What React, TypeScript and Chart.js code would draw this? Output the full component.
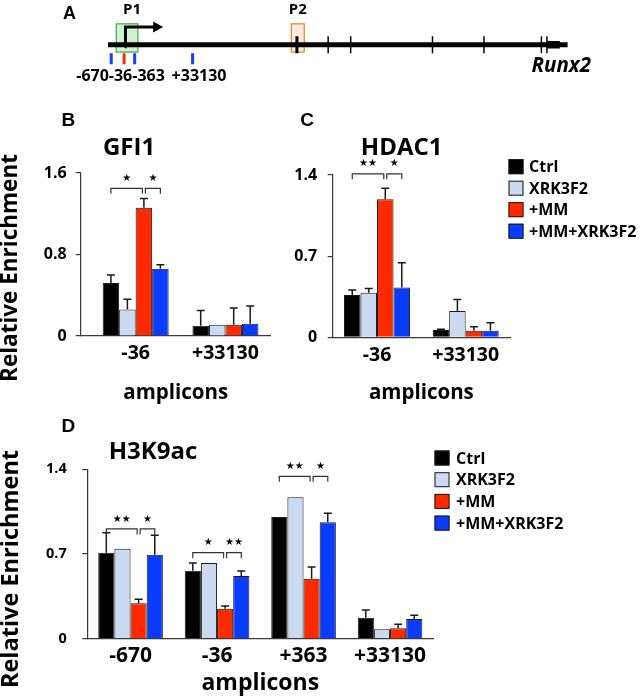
import React, { useEffect, useRef } from 'react';
import { Chart, registerables } from 'chart.js';

Chart.register(...registerables);

// ---------- shared series ----------
const SERIES = ['Ctrl', 'XRK3F2', '+MM', '+MM+XRK3F2'];
const SERIES_COLORS = ['#000000', '#c9daf1', '#ff2a00', '#0a3cff'];

// ---------- panel A: Runx2 gene map (positions in arbitrary track units) ----------
const geneBody = [0, 100];
const geneTail = [95.6, 98.3];
const exonPositions = [41.1, 47.9, 52.8, 70.6, 81.8, 94.3, 95.5];
const exonWidths = [3, 1.5, 1.5, 1.5, 1.5, 1.5, 1.5];
const primerNames = ['-670', '-36', '-363', '+33130'];
const primerPositions = [0.7, 3.5, 5.8, 18.4];
const primerColors = ['#1a3cff', '#ff2a00', '#1a3cff', '#1a3cff'];
const promoterNames = ['P1', 'P2'];
const promoterStarts = [1.8, 39.9];
const promoterEnds = [6.5, 42.7];
const promoterFills = ['rgba(200,240,200,0.85)', 'rgba(253,233,217,0.9)'];
const promoterStrokes = ['#4caf50', '#f08a2c'];
const tssPosition = 3.8;
const tssArrowEnd = 12;

// ---------- panel B: GFI1 ----------
const gfi1Amplicons = ['-36', '+33130'];
const gfi1YTicks = [0, 0.8, 1.6];
const gfi1Ctrl = [0.52, 0.10];
const gfi1Xrk = [0.26, 0.11];
const gfi1Mm = [1.26, 0.11];
const gfi1MmXrk = [0.66, 0.12];
const gfi1CtrlErr = [0.08, 0.15];
const gfi1XrkErr = [0.10, 0];
const gfi1MmErr = [0.09, 0.165];
const gfi1MmXrkErr = [0.04, 0.175];
const gfi1Sig = [
  { cat: 0, from: 0, to: 2, level: 1.45, stars: '★' },
  { cat: 0, from: 2, to: 3, level: 1.45, stars: '★' },
];

// ---------- panel C: HDAC1 ----------
const hdac1Amplicons = ['-36', '+33130'];
const hdac1YTicks = [0, 0.7, 1.4];
const hdac1Ctrl = [0.365, 0.063];
const hdac1Xrk = [0.385, 0.227];
const hdac1Mm = [1.19, 0.057];
const hdac1MmXrk = [0.43, 0.057];
const hdac1CtrlErr = [0.043, 0.006];
const hdac1XrkErr = [0.035, 0.10];
const hdac1MmErr = [0.095, 0.033];
const hdac1MmXrkErr = [0.214, 0.069];
const hdac1Sig = [
  { cat: 0, from: 0, to: 2, level: 1.41, stars: '★★' },
  { cat: 0, from: 2, to: 3, level: 1.41, stars: '★' },
];

// ---------- panel D: H3K9ac ----------
const h3Amplicons = ['-670', '-36', '+363', '+33130'];
const h3YTicks = [0, 0.7, 1.4];
const h3Ctrl = [0.711, 0.562, 1.006, 0.174];
const h3Xrk = [0.744, 0.626, 1.169, 0.078];
const h3Mm = [0.293, 0.248, 0.496, 0.086];
const h3MmXrk = [0.694, 0.518, 0.962, 0.163];
const h3CtrlErr = [0.165, 0.064, 0, 0.063];
const h3XrkErr = [0, 0, 0, 0];
const h3MmErr = [0.033, 0.022, 0.097, 0.033];
const h3MmXrkErr = [0.161, 0.042, 0.074, 0.03];
const h3Sig = [
  { cat: 0, from: 0, to: 2, level: 0.907, stars: '★★' },
  { cat: 0, from: 2, to: 3, level: 0.907, stars: '★' },
  { cat: 1, from: 0, to: 2, level: 0.711, stars: '★' },
  { cat: 1, from: 2, to: 3, level: 0.711, stars: '★★' },
  { cat: 2, from: 0, to: 2, level: 1.342, stars: '★★' },
  { cat: 2, from: 2, to: 3, level: 1.342, stars: '★' },
];

// ---------- helpers ----------
const FONT = '"Open Sans", "Noto Sans", sans-serif';
const LETTER_FONT = '"Liberation Sans", Arial, sans-serif';
const AXIS = '#3a3a3a';

type TextItem = {
  text: string;
  x: number;
  y: number;
  font: string;
  align?: CanvasTextAlign;
  rotate?: number;
  color?: string;
};
type Sig = { cat: number; from: number; to: number; level: number; stars: string };
type LegendSpec = { x: number; y: number; dy: number; box: number; textX: number; font: string };

function drawTexts(ctx: CanvasRenderingContext2D, items: TextItem[]) {
  items.forEach((t) => {
    ctx.save();
    ctx.font = t.font;
    ctx.fillStyle = t.color || '#000';
    ctx.textAlign = t.align || 'center';
    ctx.textBaseline = 'middle';
    ctx.translate(t.x, t.y);
    if (t.rotate) ctx.rotate((t.rotate * Math.PI) / 180);
    ctx.fillText(t.text, 0, 0);
    ctx.restore();
  });
}

type PanelProps = {
  left: number;
  top: number;
  width: number;
  height: number;
  categories: string[];
  values: number[][];
  errors: number[][];
  sig: Sig[];
  yTicks: number[];
  xMin: number;
  xMax: number;
  padTop: number;
  padRight: number;
  yAxisWidth: number;
  xAxisHeight: number;
  yTickFont: number;
  yTickPad: number;
  xTickFont: number;
  xTickPad: number;
  xTitleFont: number;
  catPct: number;
  texts: TextItem[];
  legend?: LegendSpec;
};

function BarPanel(p: PanelProps) {
  const ref = useRef<HTMLCanvasElement | null>(null);
  useEffect(() => {
    if (!ref.current) return;
    const errorPlugin = {
      id: 'errorBars',
      afterDatasetsDraw(chart: any) {
        const { ctx } = chart;
        const yS = chart.scales.y;
        ctx.save();
        ctx.strokeStyle = '#1a1a1a';
        ctx.lineWidth = 1.5;
        p.errors.forEach((errs, s) => {
          const meta = chart.getDatasetMeta(s);
          meta.data.forEach((bar: any, c: number) => {
            const e = errs[c];
            if (!e) return;
            const yTop = yS.getPixelForValue(p.values[s][c] + e);
            ctx.beginPath();
            ctx.moveTo(bar.x, bar.y);
            ctx.lineTo(bar.x, yTop);
            ctx.moveTo(bar.x - 4, yTop);
            ctx.lineTo(bar.x + 4, yTop);
            ctx.stroke();
          });
        });
        ctx.restore();
      },
    };
    const sigPlugin = {
      id: 'sigBrackets',
      afterDatasetsDraw(chart: any) {
        const { ctx } = chart;
        const yS = chart.scales.y;
        ctx.save();
        ctx.strokeStyle = '#333';
        ctx.lineWidth = 1.2;
        p.sig.forEach((b, i) => {
          const shareEnd = p.sig.some((o, j) => j !== i && o.cat === b.cat && o.from === b.to);
          const shareStart = p.sig.some((o, j) => j !== i && o.cat === b.cat && o.to === b.from);
          const x1 = chart.getDatasetMeta(b.from).data[b.cat].x + (shareStart ? 1.5 : 0);
          const x2 = chart.getDatasetMeta(b.to).data[b.cat].x - (shareEnd ? 1.5 : 0);
          const y = yS.getPixelForValue(b.level);
          ctx.beginPath();
          ctx.moveTo(x1, y + 5.5);
          ctx.lineTo(x1, y);
          ctx.lineTo(x2, y);
          ctx.lineTo(x2, y + 5.5);
          ctx.stroke();
          ctx.fillStyle = '#000';
          ctx.font = '10px "DejaVu Sans", sans-serif';
          ctx.textAlign = 'center';
          ctx.textBaseline = 'middle';
          ctx.fillText(b.stars, (x1 + x2) / 2, y - 10);
        });
        ctx.restore();
      },
    };
    const decorPlugin = {
      id: 'decor',
      afterDraw(chart: any) {
        const { ctx } = chart;
        drawTexts(ctx, p.texts);
        if (p.legend) {
          const L = p.legend;
          chart.data.datasets.forEach((ds: any, i: number) => {
            const cy = L.y + i * L.dy;
            ctx.save();
            ctx.fillStyle = ds.backgroundColor;
            ctx.fillRect(L.x, cy - L.box / 2, L.box, L.box);
            ctx.strokeStyle = '#1a1a1a';
            ctx.lineWidth = 1;
            ctx.strokeRect(L.x + 0.5, cy - L.box / 2 + 0.5, L.box - 1, L.box - 1);
            ctx.fillStyle = '#000';
            ctx.font = L.font;
            ctx.textAlign = 'left';
            ctx.textBaseline = 'middle';
            ctx.fillText(ds.label, L.textX, cy + 1);
            ctx.restore();
          });
        }
      },
    };
    const chart = new Chart(ref.current, {
      type: 'bar',
      data: {
        datasets: SERIES.map((name, s) => ({
          label: name,
          data: p.categories.map((_, c) => ({ x: c, y: p.values[s][c] })),
          backgroundColor: SERIES_COLORS[s],
          borderColor: '#1a1a1a',
          borderWidth: 1,
          borderSkipped: 'start',
          categoryPercentage: p.catPct,
          barPercentage: 1,
        })),
      } as any,
      options: {
        responsive: false,
        animation: false,
        devicePixelRatio: 1,
        layout: { padding: { top: p.padTop, right: p.padRight, bottom: 0, left: 0 } },
        plugins: { legend: { display: false }, tooltip: { enabled: false }, title: { display: false } },
        scales: {
          x: {
            type: 'linear',
            min: p.xMin,
            max: p.xMax,
            offset: false,
            afterBuildTicks: (s: any) => {
              s.ticks = p.categories.map((_, i) => ({ value: i }));
            },
            afterFit: (s: any) => {
              s.height = p.xAxisHeight;
            },
            grid: { display: false, drawTicks: false },
            border: { display: true, color: AXIS, width: 1.2 },
            ticks: {
              autoSkip: false,
              maxRotation: 0,
              padding: p.xTickPad,
              color: '#000',
              font: { family: FONT, size: p.xTickFont, weight: 'bold' },
              callback: (v: any) => p.categories[Number(v)] ?? '',
            },
            title: {
              display: true,
              text: 'amplicons',
              color: '#000',
              padding: 0,
              font: { family: FONT, size: p.xTitleFont, weight: 'bold' },
            },
          },
          y: {
            min: 0,
            max: p.yTicks[p.yTicks.length - 1],
            afterBuildTicks: (s: any) => {
              s.ticks = p.yTicks.map((v) => ({ value: v }));
            },
            afterFit: (s: any) => {
              s.width = p.yAxisWidth;
            },
            grid: { display: true, drawOnChartArea: false, drawTicks: true, tickLength: 5, color: AXIS, lineWidth: 1.2 },
            border: { display: true, color: AXIS, width: 1.2 },
            ticks: {
              padding: p.yTickPad,
              color: '#000',
              font: { family: FONT, size: p.yTickFont, weight: 'bold' },
              callback: (v: any) => (Number(v) === 0 ? '0' : Number(v).toFixed(1)),
            },
          },
        },
      } as any,
      plugins: [errorPlugin, sigPlugin, decorPlugin],
    });
    return () => chart.destroy();
  }, []);
  return (
    <canvas
      ref={ref}
      width={p.width}
      height={p.height}
      style={{ position: 'absolute', left: p.left, top: p.top, width: p.width, height: p.height }}
    />
  );
}

function GeneMap() {
  const ref = useRef<HTMLCanvasElement | null>(null);
  useEffect(() => {
    if (!ref.current) return;
    const LINE_Y = 56.7;
    const PRIMER_Y = 38.7;
    const BOX_TOP = 84;
    const BOX_BOTTOM = 47.3;
    const TSS_TOP = 80;
    const mapPlugin = {
      id: 'geneMap',
      beforeDatasetsDraw(chart: any) {
        const { ctx } = chart;
        const { x, y } = chart.scales;
        ctx.save();
        promoterNames.forEach((name, i) => {
          const x1 = x.getPixelForValue(promoterStarts[i]);
          const x2 = x.getPixelForValue(promoterEnds[i]);
          const y1 = y.getPixelForValue(BOX_TOP);
          const y2 = y.getPixelForValue(BOX_BOTTOM);
          ctx.fillStyle = promoterFills[i];
          ctx.fillRect(x1, y1, x2 - x1, y2 - y1);
          ctx.strokeStyle = promoterStrokes[i];
          ctx.lineWidth = 1.3;
          ctx.strokeRect(x1, y1, x2 - x1, y2 - y1);
          ctx.fillStyle = '#000';
          ctx.font = `bold 15px ${FONT}`;
          ctx.textAlign = 'center';
          ctx.textBaseline = 'middle';
          ctx.fillText(name, (x1 + x2) / 2 + (i === 0 ? 5 : 0), 10);
        });
        ctx.restore();
      },
      afterDatasetsDraw(chart: any) {
        const { ctx } = chart;
        const { x, y } = chart.scales;
        ctx.save();
        // TSS bent arrow
        const tx = x.getPixelForValue(tssPosition);
        const ty0 = y.getPixelForValue(LINE_Y);
        const ty1 = y.getPixelForValue(TSS_TOP);
        const tEnd = x.getPixelForValue(tssArrowEnd);
        ctx.strokeStyle = '#000';
        ctx.lineWidth = 3;
        ctx.beginPath();
        ctx.moveTo(tx, ty0);
        ctx.lineTo(tx, ty1);
        ctx.lineTo(tEnd - 8, ty1);
        ctx.stroke();
        ctx.fillStyle = '#000';
        ctx.beginPath();
        ctx.moveTo(tEnd, ty1);
        ctx.lineTo(tEnd - 10, ty1 - 5.5);
        ctx.lineTo(tEnd - 10, ty1 + 5.5);
        ctx.closePath();
        ctx.fill();
        // small left-pointing mark on the gene line at the TSS
        ctx.beginPath();
        ctx.moveTo(tx - 5, ty0);
        ctx.lineTo(tx + 1, ty0 - 4);
        ctx.lineTo(tx + 1, ty0 + 4);
        ctx.closePath();
        ctx.fill();
        // primer labels
        const px0 = x.getPixelForValue(primerPositions[0]);
        const px3 = x.getPixelForValue(primerPositions[3]);
        const ly = y.getPixelForValue(PRIMER_Y) + 17.5;
        ctx.font = `bold 16px ${FONT}`;
        ctx.textBaseline = 'middle';
        ctx.textAlign = 'left';
        ctx.fillText(primerNames.slice(0, 3).join(''), px0 - 35, ly);
        ctx.fillText(primerNames[3], px3 - 21, ly);
        ctx.restore();
        drawTexts(ctx, [
          { text: 'A', x: 69.5, y: 14, font: `bold 18px ${LETTER_FONT}` },
          { text: 'Runx2', x: 591, y: 66, font: `italic bold 20.5px ${FONT}`, align: 'right' },
        ]);
      },
    };
    const chart = new Chart(ref.current, {
      type: 'scatter',
      data: {
        datasets: [
          {
            label: 'gene',
            data: geneBody.map((g) => ({ x: g, y: LINE_Y })),
            showLine: true,
            borderColor: '#000',
            borderWidth: 5,
            pointRadius: 0,
          },
          {
            label: 'gene end',
            data: geneTail.map((g) => ({ x: g, y: LINE_Y })),
            showLine: true,
            borderColor: '#000',
            borderWidth: 7.5,
            pointRadius: 0,
          },
          {
            label: 'exons',
            data: exonPositions.map((e) => ({ x: e, y: LINE_Y })),
            pointStyle: 'line',
            rotation: 90,
            radius: 8.5,
            borderColor: '#000',
            borderWidth: exonWidths,
            backgroundColor: '#000',
          },
          {
            label: 'primers',
            data: primerPositions.map((e) => ({ x: e, y: PRIMER_Y })),
            pointStyle: 'line',
            rotation: 90,
            radius: 5.5,
            borderColor: primerColors,
            borderWidth: 3,
            backgroundColor: primerColors,
          },
        ],
      } as any,
      options: {
        responsive: false,
        animation: false,
        devicePixelRatio: 1,
        layout: { padding: 0 },
        plugins: { legend: { display: false }, tooltip: { enabled: false } },
        scales: {
          x: { type: 'linear', min: -21, max: 113.25, display: false },
          y: { type: 'linear', min: 0, max: 100, display: false },
        },
      } as any,
      plugins: [mapPlugin],
    });
    return () => chart.destroy();
  }, []);
  return (
    <canvas ref={ref} width={640} height={100} style={{ position: 'absolute', left: 0, top: 0, width: 640, height: 100 }} />
  );
}

export default function App() {
  return (
    <div style={{ position: 'absolute', left: 0, top: 0, width: 640, height: 697, background: '#fff', overflow: 'hidden' }}>
      <GeneMap />
      <BarPanel
        left={0}
        top={100}
        width={280}
        height={305}
        categories={gfi1Amplicons}
        values={[gfi1Ctrl, gfi1Xrk, gfi1Mm, gfi1MmXrk]}
        errors={[gfi1CtrlErr, gfi1XrkErr, gfi1MmErr, gfi1MmXrkErr]}
        sig={gfi1Sig}
        yTicks={gfi1YTicks}
        xMin={-0.612}
        xMax={1.504}
        padTop={73}
        padRight={9.3}
        yAxisWidth={80.7}
        xAxisHeight={69}
        yTickFont={16}
        yTickPad={9}
        xTickFont={19.5}
        xTickPad={6}
        xTitleFont={20.5}
        catPct={0.735}
        texts={[
          { text: 'B', x: 68.3, y: 21, font: `bold 19px ${LETTER_FONT}` },
          { text: 'GFI1', x: 129, y: 48, font: `bold 24px ${FONT}` },
          { text: 'Relative Enrichment', x: 11, y: 168, rotate: -90, font: `bold 22.5px ${FONT}` },
        ]}
      />
      <BarPanel
        left={280}
        top={100}
        width={360}
        height={305}
        categories={hdac1Amplicons}
        values={[hdac1Ctrl, hdac1Xrk, hdac1Mm, hdac1MmXrk]}
        errors={[hdac1CtrlErr, hdac1XrkErr, hdac1MmErr, hdac1MmXrkErr]}
        sig={hdac1Sig}
        yTicks={hdac1YTicks}
        xMin={-0.5}
        xMax={1.5}
        padTop={75}
        padRight={130}
        yAxisWidth={52.7}
        xAxisHeight={67.7}
        yTickFont={16}
        yTickPad={10.5}
        xTickFont={19.5}
        xTickPad={6}
        xTitleFont={20.5}
        catPct={0.745}
        texts={[
          { text: 'C', x: 27, y: 21, font: `bold 19px ${LETTER_FONT}` },
          { text: 'HDAC1', x: 121.7, y: 48, font: `bold 24px ${FONT}` },
        ]}
        legend={{ x: 228.5, y: 66.7, dy: 21.5, box: 15, textX: 249, font: `bold 16px ${FONT}` }}
      />
      <BarPanel
        left={0}
        top={400}
        width={640}
        height={297}
        categories={h3Amplicons}
        values={[h3Ctrl, h3Xrk, h3Mm, h3MmXrk]}
        errors={[h3CtrlErr, h3XrkErr, h3MmErr, h3MmXrkErr]}
        sig={h3Sig}
        yTicks={h3YTicks}
        xMin={-0.5}
        xMax={3.5}
        padTop={69.3}
        padRight={206.7}
        yAxisWidth={87.3}
        xAxisHeight={58.3}
        yTickFont={14.5}
        yTickPad={15.5}
        xTickFont={21}
        xTickPad={5}
        xTitleFont={23}
        catPct={0.747}
        texts={[
          { text: 'D', x: 68.3, y: 27, font: `bold 19px ${LETTER_FONT}` },
          { text: 'H3K9ac', x: 153, y: 52, font: `bold 24px ${FONT}` },
          { text: 'Relative Enrichment', x: 11, y: 569 - 400, rotate: -90, font: `bold 23.5px ${FONT}` },
        ]}
        legend={{ x: 434.5, y: 58, dy: 21.7, box: 15, textX: 456, font: `bold 16px ${FONT}` }}
      />
    </div>
  );
}
